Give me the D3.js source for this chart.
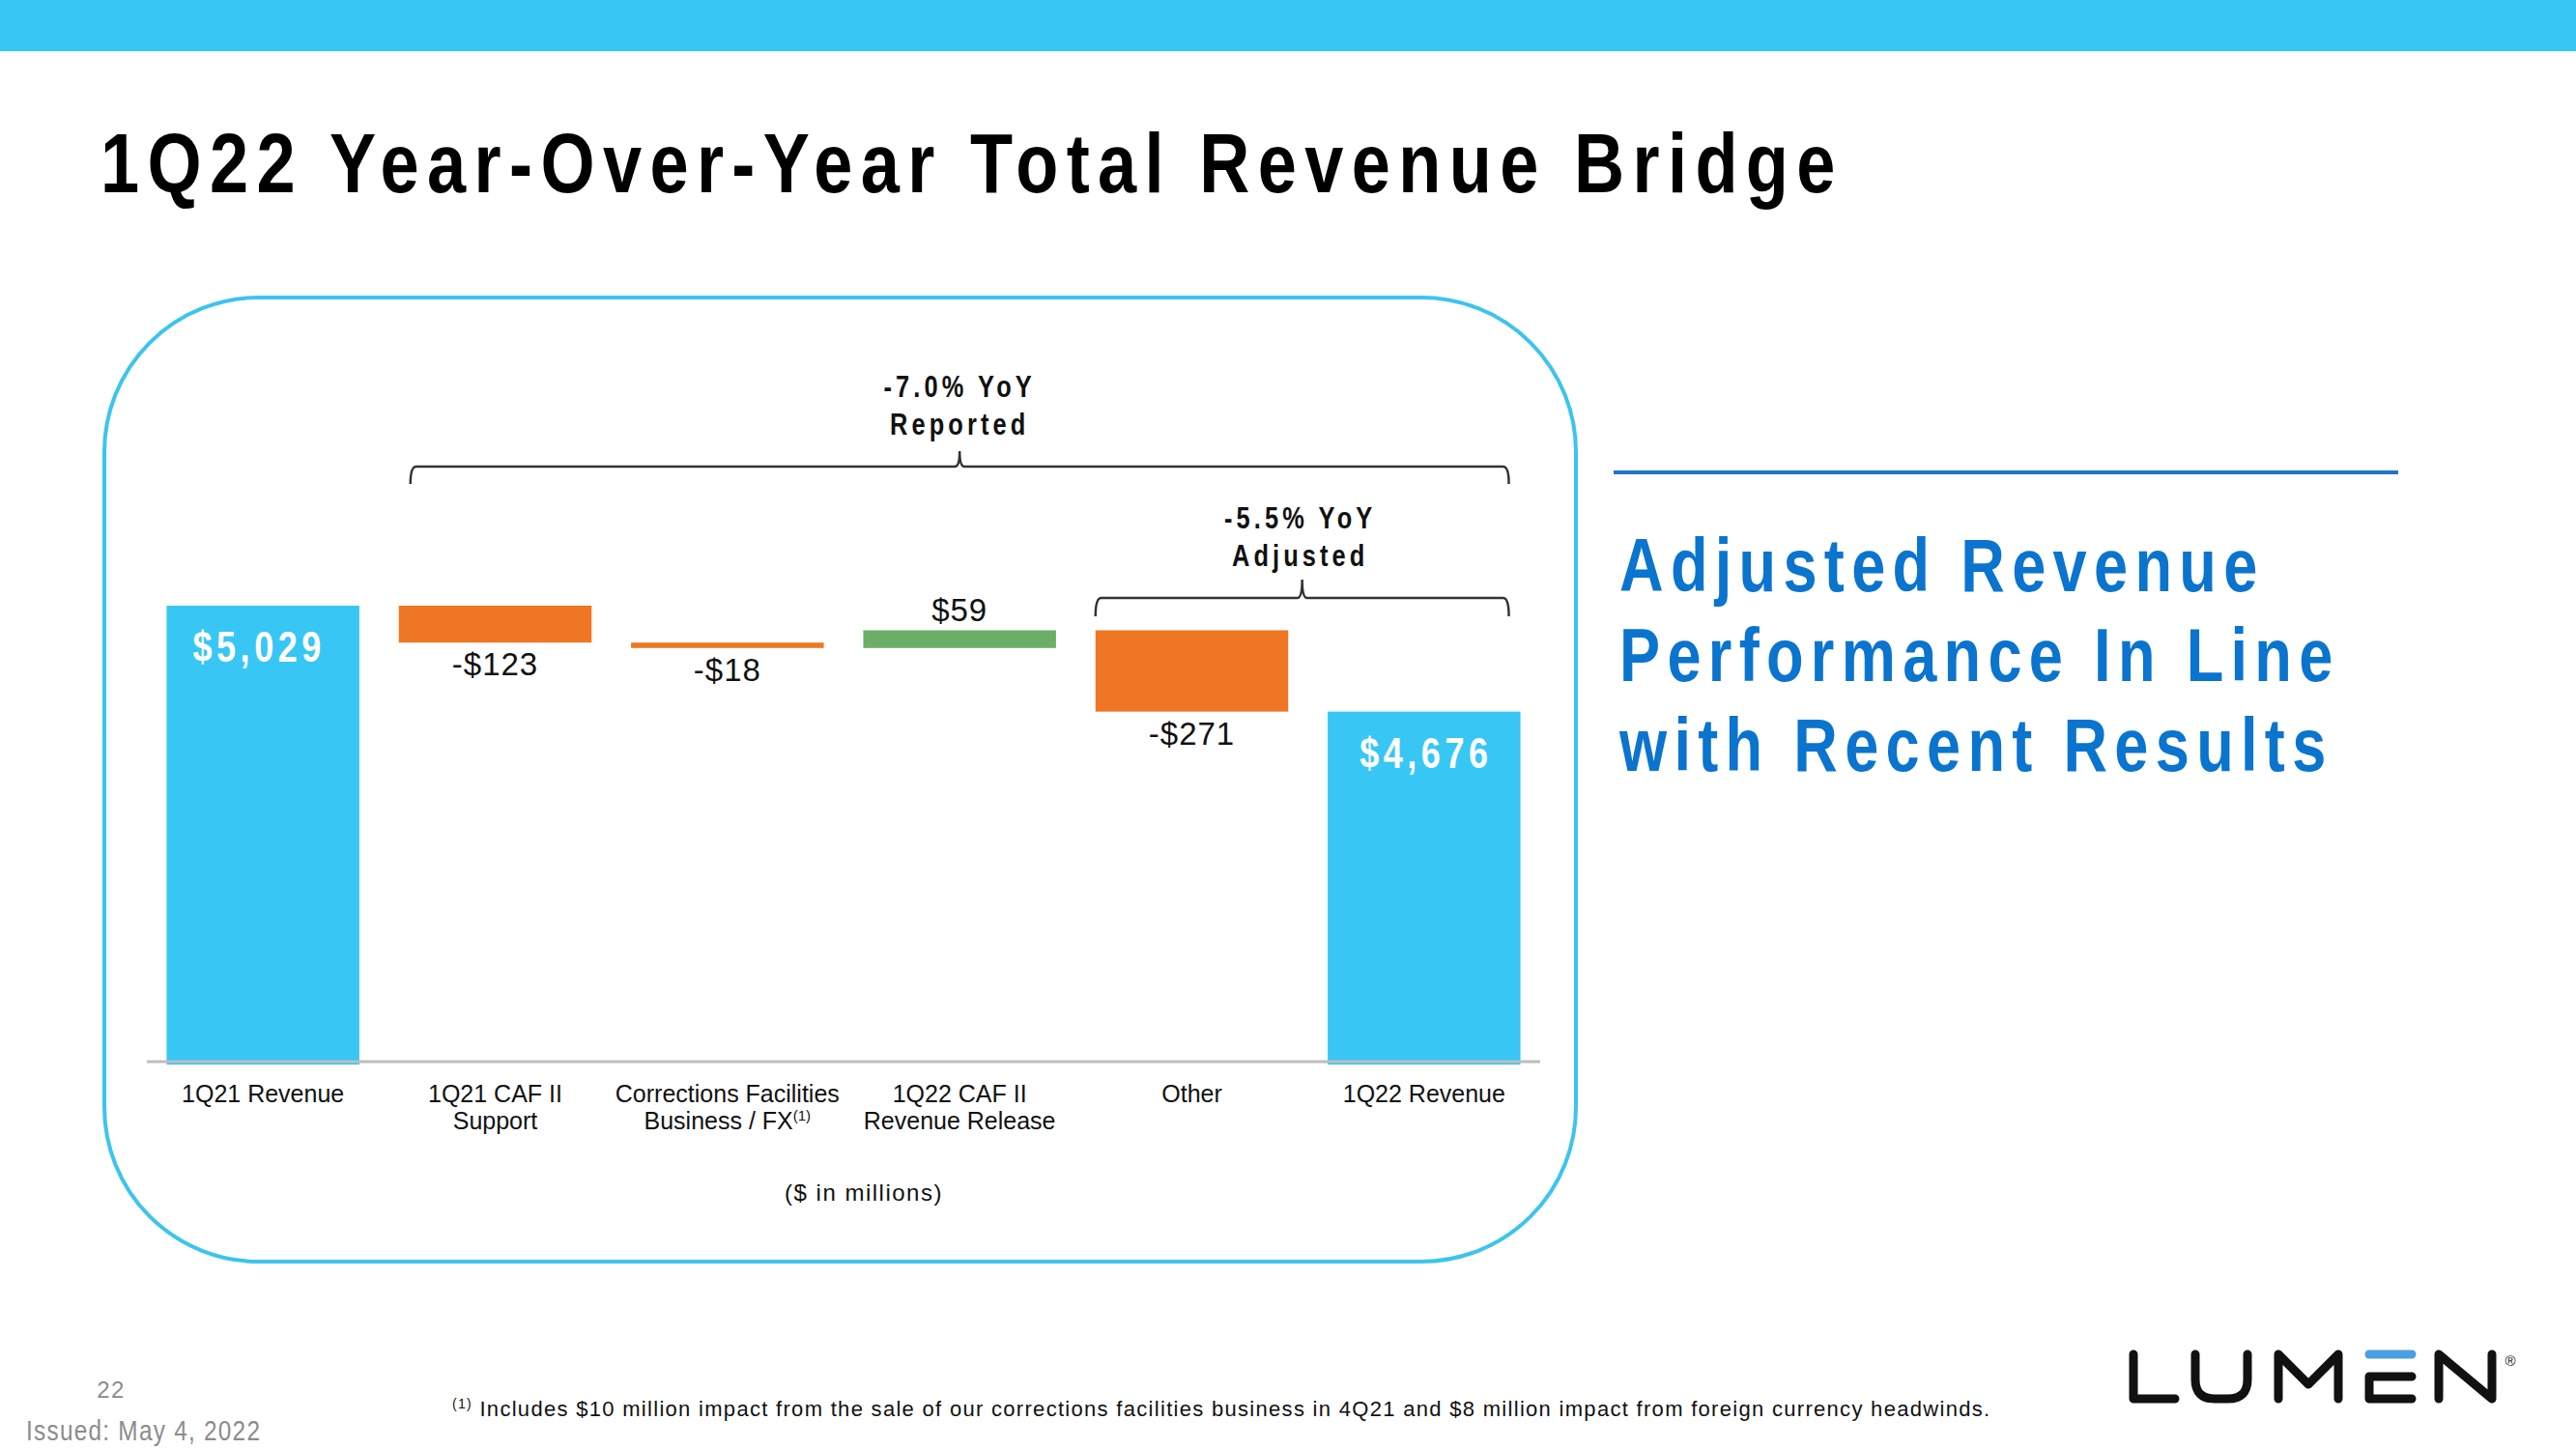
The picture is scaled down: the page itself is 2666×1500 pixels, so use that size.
<!DOCTYPE html>
<html>
<head>
<meta charset="utf-8">
<script src="https://cdn.jsdelivr.net/npm/d3@7"></script>
<style>
  html, body { margin: 0; padding: 0; background: #fff; }
  svg { display: block; }
</style>
</head>
<body>
<script>
// ---------------- DATA ----------------
const categories = ["1Q21 Revenue", "1Q21 CAF II Support", "Corrections Facilities Business / FX", "1Q22 CAF II Revenue Release", "Other", "1Q22 Revenue"];
const categoryLines = [["1Q21 Revenue"], ["1Q21 CAF II", "Support"], ["Corrections Facilities", "Business / FX"], ["1Q22 CAF II", "Revenue Release"], ["Other"], ["1Q22 Revenue"]];
const categoryFootnote = [null, null, "(1)", null, null, null];
const values = [5029, -123, -18, 59, -271, 4676];
const barTypes = ["total", "delta", "delta", "delta", "delta", "total"];
const valueLabels = ["$5,029", "-$123", "-$18", "$59", "-$271", "$4,676"];
const axisMin = 3500;
const reportedLabel = ["-7.0% YoY", "Reported"];
const adjustedLabel = ["-5.5% YoY", "Adjusted"];
const titleText = "1Q22 Year-Over-Year Total Revenue Bridge";
const sideText = ["Adjusted Revenue", "Performance In Line", "with Recent Results"];
const unitsText = "($ in millions)";
const footnoteText = " Includes $10 million impact from the sale of our corrections facilities business in 4Q21 and $8 million impact from foreign currency headwinds.";
const pageNumber = "22";
const issuedText = "Issued: May 4, 2022";

// ---------------- STYLE ----------------
const W = 2666, H = 1500;
const FONT = "'Liberation Sans', Arial, Helvetica, sans-serif";
const C_BLUE = "#38C6F4", C_ORANGE = "#EE7624", C_GREEN = "#6BAE68";
const C_DARKBLUE = "#0A74CE";

const svg = d3.select("body").append("svg").attr("width", W).attr("height", H);

function ntext(parent, x, y, str, o) {
  const g = parent.append("g").attr("transform", `translate(${x},${y}) scale(${o.sx || 0.82},1)`);
  return g.append("text")
    .attr("text-anchor", o.anchor || "start")
    .attr("font-family", FONT)
    .attr("font-size", o.size)
    .attr("font-weight", o.weight || "normal")
    .attr("letter-spacing", o.ls || 0)
    .attr("fill", o.fill || "#000")
    .text(str);
}

// top banner
svg.append("rect").attr("x", 0).attr("y", 0).attr("width", W).attr("height", 53).attr("fill", C_BLUE);

// title
ntext(svg, 104, 199, titleText, { size: 88, weight: "bold", ls: 10.2, sx: 0.82 });

// rounded frame
svg.append("rect").attr("x", 108).attr("y", 308).attr("width", 1523).attr("height", 998)
  .attr("rx", 160).attr("ry", 160).attr("fill", "none").attr("stroke", "#3CC4EE").attr("stroke-width", 4);

// ---------------- CHART ----------------
const x = d3.scaleBand().domain(categories).range([152, 1594]).paddingInner(0.17).paddingOuter(0.085);
const y = d3.scaleLinear().domain([axisMin, 5029]).range([1102, 627]);
const bw = x.bandwidth();

// compute waterfall segments
let running = 0;
const bars = categories.map((c, i) => {
  let y0, y1;
  if (barTypes[i] === "total") { y0 = axisMin; y1 = values[i]; running = values[i]; }
  else { y0 = running; y1 = running + values[i]; running = y1; }
  return { c, i, lo: Math.min(y0, y1), hi: Math.max(y0, y1), v: values[i], type: barTypes[i] };
});

const chart = svg.append("g");
chart.selectAll("rect.bar").data(bars).join("rect")
  .attr("class", "bar")
  .attr("x", d => x(d.c))
  .attr("width", bw)
  .attr("y", d => y(d.hi))
  .attr("height", d => y(d.lo) - y(d.hi))
  .attr("fill", d => d.type === "total" ? C_BLUE : (d.v < 0 ? C_ORANGE : C_GREEN));

// baseline axis
const xAxis = d3.axisBottom(x).tickSize(0).tickFormat("");
const axG = chart.append("g").attr("transform", "translate(0,1099)").call(xAxis);
axG.select(".domain").attr("stroke", "#BDBDBD").attr("stroke-width", 3).attr("d", "M152,0H1594");

// category labels
bars.forEach((d, i) => {
  const cx = x(d.c) + bw / 2;
  const t = chart.append("text").attr("text-anchor", "middle").attr("font-family", FONT)
    .attr("font-size", 25).attr("fill", "#111");
  categoryLines[i].forEach((line, j) => {
    t.append("tspan").attr("x", cx).attr("y", 1141 + j * 28).text(line);
    if (j === categoryLines[i].length - 1 && categoryFootnote[i]) {
      t.append("tspan").attr("font-size", 15).attr("dy", -9).text(categoryFootnote[i]);
    }
  });
});

// value labels
const totalOffset = [-4, 0, 0, 0, 0, 2];
bars.forEach((d, i) => {
  const cx = x(d.c) + bw / 2;
  if (d.type === "total") {
    ntext(chart, cx + totalOffset[i], y(d.hi) + 58, valueLabels[i], { size: 44, weight: "bold", ls: 5.5, fill: "#fff", anchor: "middle" });
  } else if (d.v < 0) {
    chart.append("text").attr("x", cx).attr("y", y(d.lo) + 34).attr("text-anchor", "middle")
      .attr("font-family", FONT).attr("font-size", 33).attr("letter-spacing", 1).attr("fill", "#111").text(valueLabels[i]);
  } else {
    chart.append("text").attr("x", cx).attr("y", y(d.hi) - 9).attr("text-anchor", "middle")
      .attr("font-family", FONT).attr("font-size", 33).attr("letter-spacing", 1).attr("fill", "#111").text(valueLabels[i]);
  }
});

// braces
function brace(x0, x1, yb, drop, tip) {
  const mid = (x0 + x1) / 2;
  const p = d3.path();
  p.moveTo(x0, yb + drop);
  p.quadraticCurveTo(x0, yb, x0 + 6, yb);
  p.lineTo(mid - 5, yb);
  p.quadraticCurveTo(mid, yb, mid, yb - tip);
  p.quadraticCurveTo(mid, yb, mid + 5, yb);
  p.lineTo(x1 - 6, yb);
  p.quadraticCurveTo(x1, yb, x1, yb + drop);
  chart.append("path").attr("d", p.toString()).attr("fill", "none").attr("stroke", "#333").attr("stroke-width", 2.5);
  return mid;
}
const b1x0 = x(categories[1]) + 12, b1x1 = x(categories[5]) + bw - 12;
const m1 = brace(b1x0, b1x1, 483, 18, 16);
const b2x0 = x(categories[4]), b2x1 = b1x1;
const m2 = brace(b2x0, b2x1, 619, 19, 19);

reportedLabel.forEach((s, j) => ntext(chart, m1, 411 + j * 39, s, { size: 31, weight: "bold", ls: 5, anchor: "middle", fill: "#111" }));
adjustedLabel.forEach((s, j) => ntext(chart, m2 - 2, 547 + j * 39, s, { size: 31, weight: "bold", ls: 5, anchor: "middle", fill: "#111" }));

// units
chart.append("text").attr("x", 894).attr("y", 1243).attr("text-anchor", "middle").attr("font-family", FONT)
  .attr("font-size", 24).attr("letter-spacing", 1.5).attr("fill", "#111").text(unitsText);

// ---------------- RIGHT PANEL ----------------
svg.append("line").attr("x1", 1670).attr("x2", 2482).attr("y1", 489).attr("y2", 489)
  .attr("stroke", "#1F76C8").attr("stroke-width", 4);
sideText.forEach((s, j) => ntext(svg, 1676, 612 + j * 93, s, { size: 77, weight: "bold", ls: 8.9, fill: C_DARKBLUE }));

// ---------------- FOOTER ----------------
svg.append("text").attr("x", 115).attr("y", 1447).attr("text-anchor", "middle").attr("font-family", FONT)
  .attr("font-size", 24).attr("letter-spacing", 1.5).attr("fill", "#8c8c8c").text(pageNumber);
ntext(svg, 27, 1491, issuedText, { size: 29, ls: 1.5, fill: "#8c8c8c", sx: 0.84 });

const fn = svg.append("text").attr("x", 468).attr("y", 1466).attr("font-family", FONT).attr("font-size", 22)
  .attr("letter-spacing", 1.3).attr("fill", "#111");
fn.append("tspan").attr("font-size", 14).attr("dy", -8).text("(1)");
fn.append("tspan").attr("dy", 8).text(footnoteText);

// LUMEN logo
const logo = svg.append("g").attr("fill", "none").attr("stroke", "#111").attr("stroke-width", 9)
  .attr("stroke-linecap", "round").attr("stroke-linejoin", "round");
logo.append("path").attr("d", "M2208,1402V1448H2251");
logo.append("path").attr("d", "M2272,1402V1428Q2272,1448 2292,1448H2306Q2326,1448 2326,1428V1402");
logo.append("path").attr("d", "M2358,1448V1402L2389,1433L2420,1402V1448");
logo.append("path").attr("d", "M2496,1425H2452V1448H2496");
logo.append("path").attr("d", "M2452,1402H2496").attr("stroke", "#4A9FE0");
logo.append("path").attr("d", "M2524,1448V1402L2579,1448V1402");
svg.append("text").attr("x", 2598).attr("y", 1414).attr("text-anchor", "middle").attr("font-family", FONT)
  .attr("font-size", 15).attr("fill", "#111").text("®");
</script>
</body>
</html>
